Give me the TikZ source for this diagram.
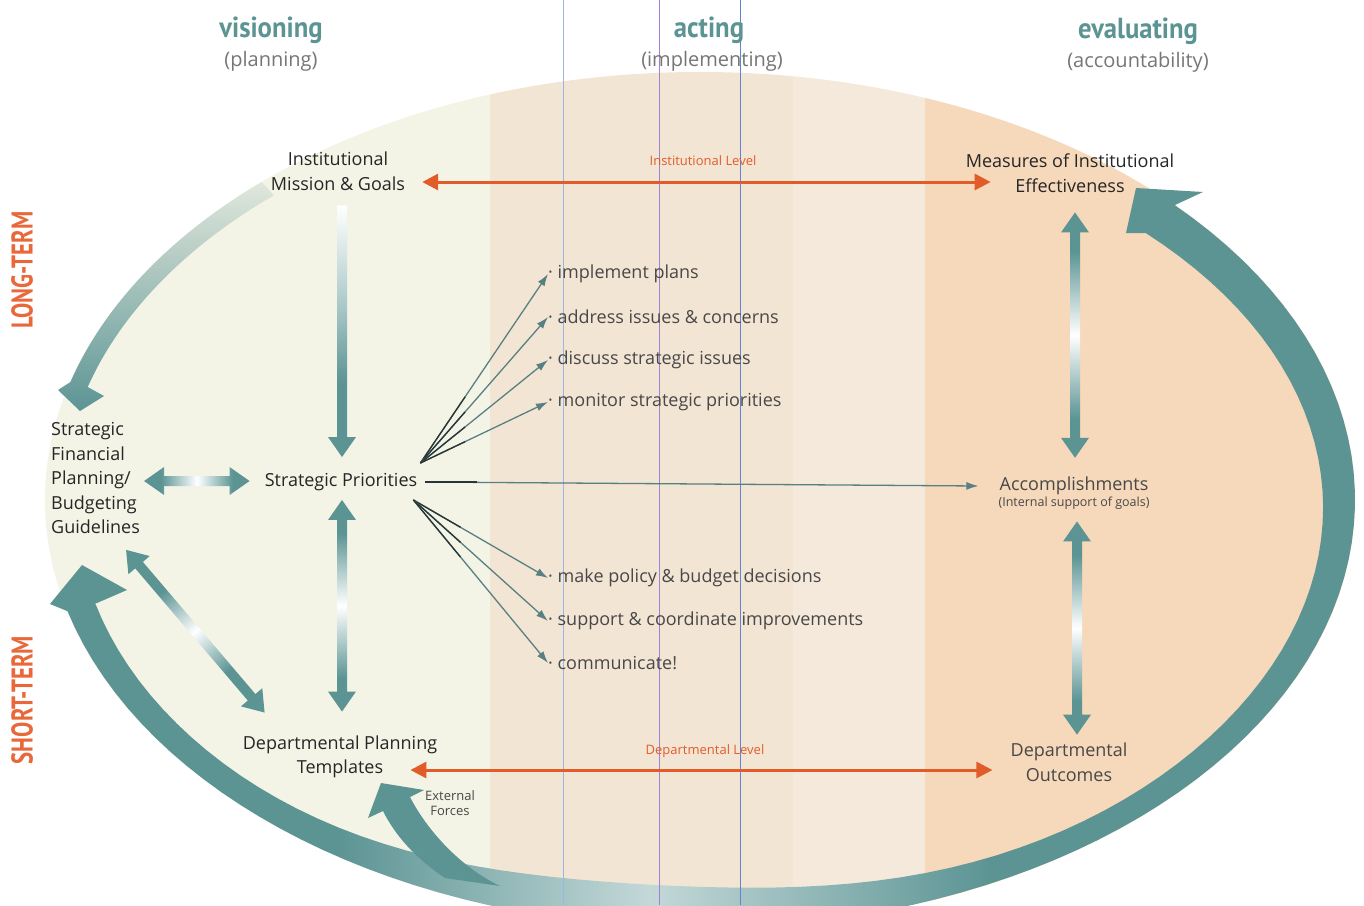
\documentclass[tikz,border=0pt]{standalone}
\usepackage{fontspec}
\setmainfont{Open Sans}
\newfontfamily\headfont{PT Sans}[FakeStretch=0.92]
\newfontfamily\termfont{PT Sans}[FakeStretch=0.76]
\usetikzlibrary{calc,arrows.meta}
\definecolor{tealc}{RGB}{92,148,148}
\definecolor{tealmid}{RGB}{170,200,200}
\definecolor{tealpale}{RGB}{196,216,216}
\definecolor{orangec}{RGB}{226,92,42}
\definecolor{termc}{RGB}{232,104,58}
\definecolor{txt}{RGB}{38,38,38}
\definecolor{txtl}{RGB}{72,72,72}
\definecolor{subc}{RGB}{118,118,118}
\definecolor{zoneA}{RGB}{243,243,230}
\definecolor{zoneB}{RGB}{243,229,212}
\definecolor{zoneC}{RGB}{244,233,218}
\definecolor{zoneD}{RGB}{246,216,186}
\definecolor{fanc}{RGB}{88,128,130}
\definecolor{fandark}{RGB}{40,52,54}
\definecolor{guideA}{RGB}{150,185,225}
\definecolor{guideB}{RGB}{160,130,210}
\definecolor{guideC}{RGB}{100,130,205}
\pgfdeclarehorizontalshading{fatdbl}{100bp}{color(0bp)=(tealc); color(25bp)=(tealc); color(33bp)=(tealc); color(50bp)=(white); color(67bp)=(tealc); color(75bp)=(tealc); color(100bp)=(tealc)}
\pgfdeclarehorizontalshading{fatsgl}{100bp}{color(0bp)=(white); color(25bp)=(white); color(45bp)=(tealmid); color(60bp)=(tealc); color(100bp)=(tealc)}
\pgfdeclarehorizontalshading{bandshade}{100bp}{color(0bp)=(tealc); color(36bp)=(tealc); color(48bp)=(tealpale); color(61bp)=(tealc); color(100bp)=(tealc)}
% fat shaded arrow: #1 shading, #2 from, #3 to, #4 number of heads
\newcommand\fatarrow[4]{%
  \path let \p1=($#3-#2$) in \pgfextra{%
    \pgfmathsetmacro\fa{atan2(\y1,\x1)}\global\let\fatang\fa
    \pgfmathsetmacro\fl{veclen(\x1,\y1)}\global\let\fatlen\fl};
  \begin{scope}[shift={#2}, rotate=\fatang]
    \ifnum#4=2
      \shade[shading=#1, shading angle=\fatang] (0,0) -- (20,14) -- (20,5) -- (\fatlen-20,5) -- (\fatlen-20,14) -- (\fatlen,0) -- (\fatlen-20,-14) -- (\fatlen-20,-5) -- (20,-5) -- (20,-14) -- cycle;
    \else
      \shade[shading=#1, shading angle=\fatang] (0,5) -- (\fatlen-20,5) -- (\fatlen-20,14) -- (\fatlen,0) -- (\fatlen-20,-14) -- (\fatlen-20,-5) -- (0,-5) -- cycle;
    \fi
  \end{scope}}
\begin{document}
\begin{tikzpicture}[x=1pt,y=-1pt,
  declare function={bw(\t)=20+12*(1-sin(\t))+22*exp(-min(((\t-95)/25)*((\t-95)/25),8));},
  body/.style={font=\fontsize{18}{24.5}\selectfont, text=txt, align=center, inner sep=0pt},
  item/.style={font=\fontsize{18}{24.5}\selectfont, text=txtl, anchor=west, inner sep=0pt},
  smalltxt/.style={font=\fontsize{12.5}{15}\selectfont, text=txtl, align=center, inner sep=0pt},
  lvl/.style={font=\fontsize{13}{15}\selectfont, text=orangec, inner sep=0pt},
  head/.style={font=\headfont\bfseries\fontsize{29}{32}\selectfont, text=tealc, anchor=base, inner sep=0pt},
  subhead/.style={font=\fontsize{20}{24}\selectfont, text=subc, anchor=base, inner sep=0pt},
  term/.style={font=\termfont\bfseries\fontsize{30}{32}\selectfont, text=termc, rotate=90, inner sep=0pt},
  oarrow/.style={draw=orangec, line width=3pt, {Triangle[length=16pt,width=16pt]}-{Triangle[length=16pt,width=16pt]}},
  fan/.style={draw=fanc, line width=1.3pt, -{Latex[length=12pt,width=8pt]}},
  fandk/.style={draw=fandark, line width=1.3pt},
  guide/.style={line width=0.9pt}
]
\useasboundingbox (0,0) rectangle (1364,905);
\fill[white] (0,0) rectangle (1364,905);
% background zones inside the ellipse
\begin{scope}
  \clip (700,500) ellipse [x radius=655, y radius=428];
  \fill[zoneA] (0,0) rectangle (490,905);
  \fill[zoneB] (490,0) rectangle (793,905);
  \fill[zoneC] (793,0) rectangle (925,905);
  \fill[zoneD] (925,0) rectangle (1364,905);
\end{scope}
% big band: left-bottom head, around the bottom, up the right to the head
\shade[shading=bandshade]
  (67,611) -- (50,604) -- (82,565) -- (127,590) -- (97,603)
  -- plot[domain=165:-43.5, samples=90, variable=\t] ({700+(655-bw(\t))*cos(\t)},{500+(428-bw(\t))*sin(\t)})
  -- (1126,233) -- (1136,188) -- (1203,192) -- (1175,205)
  -- plot[domain=-43.5:165, samples=90, variable=\t] ({700+655*cos(\t)},{500+428*sin(\t)})
  -- cycle;
% top-left arc
\shade[top color=tealc!12!zoneA, middle color=tealc!75!zoneA, bottom color=tealc]
  plot[domain=228:196, samples=40, variable=\t] ({700+655*cos(\t)},{500+428*sin(\t)})
  -- (58,390) -- (80,411) -- (104,396)
  -- plot[domain=196:228, samples=40, variable=\t] ({700+637*cos(\t)},{500+410*sin(\t)}) -- cycle;
% external forces arrow
\fill[tealc] (383,811) .. controls (395,835) and (415,858) .. (445,878) -- (500,886)
  .. controls (462,868) and (428,832) .. (410,797) -- (424,790) -- (381,783) -- (368,818) -- cycle;
% guide lines
\draw[guide, guideA] (563,0) -- (563,905);
\draw[guide, guideB] (659,0) -- (659,905);
\draw[guide, guideC] (740,0) -- (740,905);
% headings
\node[head] (vis) at (271,37) {visioning};
\node[subhead] (visp) at (271,66) {(planning)};
\node[head] (act) at (709,37) {acting};
\node[subhead] (actp) at (712,66) {(implementing)};
\node[head] (eva) at (1138,38) {evaluating};
\node[subhead] (evap) at (1138,67) {(accountability)};
\node[term] (long) at (22,270) {LONG-TERM};
\node[term] (short) at (22,700) {SHORT-TERM};
% main nodes
\node[body] (mission) at (338,171) {Institutional\\Mission \& Goals};
\node[body] (measures) at (1070,173) {Measures of Institutional\\Effectiveness};
\node[body, align=left, anchor=west] (fin) at (51,478) {Strategic\\Financial\\Planning/\\Budgeting\\Guidelines};
\node[body] (prio) at (341,482) {Strategic Priorities};
\node[body, text=txtl] (acc) at (1074,486) {Accomplishments};
\node[smalltxt] (accsub) at (1074,503) {(Internal support of goals)};
\node[body, text=txtl] (outc) at (1069,762) {Departmental\\Outcomes};
\node[body] (templ) at (340,757) {Departmental Planning\\Templates};
\node[smalltxt, font=\fontsize{13}{15}\selectfont] (ext) at (450,803) {External\\Forces};
\node[lvl] (instlvl) at (703,161) {Institutional Level};
\node[lvl] (deptlvl) at (705,751) {Departmental Level};
% bullet items
\node[item] (b1) at (548,274) {· implement plans};
\node[item] (b2) at (548,317) {· address issues \& concerns};
\node[item] (b3) at (548,360) {· discuss strategic issues};
\node[item] (b4) at (548,402) {· monitor strategic priorities};
\node[item] (b5) at (548,578) {· make policy \& budget decisions};
\node[item] (b6) at (548,621) {· support \& coordinate improvements};
\node[item] (b7) at (548,663) {· communicate!};
% orange level arrows
\draw[oarrow] ([xshift=17pt,yshift=-11pt]mission.east) -- ([xshift=25pt,yshift=-9pt]measures.west);
\draw[oarrow] ([xshift=-27pt,yshift=-13pt]templ.east) -- ([xshift=-18pt,yshift=-8pt]outc.west);
% fat shaded arrows
\fatarrow{fatsgl}{([xshift=4pt,yshift=-15pt]mission.south)}{([xshift=1pt,yshift=16pt]prio.north)}{1}
\fatarrow{fatdbl}{([xshift=1pt,yshift=-9pt]prio.south)}{([xshift=2pt,yshift=24pt]templ.north)}{2}
\fatarrow{fatdbl}{([xshift=4pt,yshift=-3pt]fin.east)}{([xshift=-15pt,yshift=1pt]prio.west)}{2}
\fatarrow{fatdbl}{([xshift=-14pt,yshift=-16pt]fin.south east)}{([xshift=22pt,yshift=23pt]templ.north west)}{2}
\fatarrow{fatdbl}{([xshift=5pt,yshift=-20pt]measures.south)}{([xshift=1pt,yshift=19pt]acc.north)}{2}
\fatarrow{fatdbl}{([xshift=3pt,yshift=-12pt]accsub.south)}{([xshift=8pt,yshift=8pt]outc.north)}{2}
% fan connectors (dark near the start, teal towards the tip)
\coordinate (fanU) at ($(prio.east)+(3,-19)$);
\coordinate (fanL) at ($(prio.east)+(-4,18)$);
\foreach \b in {b1,b2,b3,b4} {\draw[fan] (fanU) -- (\b.west); \draw[fandk] (fanU) -- ($(fanU)!0.35!(\b.west)$);}
\foreach \b in {b5,b6,b7} {\draw[fan] (fanL) -- (\b.west); \draw[fandk] (fanL) -- ($(fanL)!0.35!(\b.west)$);}
\draw[fan] ([xshift=8pt]prio.east) -- ([xshift=-21pt]acc.west);
\draw[fandk] ([xshift=8pt]prio.east) -- ([xshift=60pt]prio.east);
\end{tikzpicture}
\end{document}
